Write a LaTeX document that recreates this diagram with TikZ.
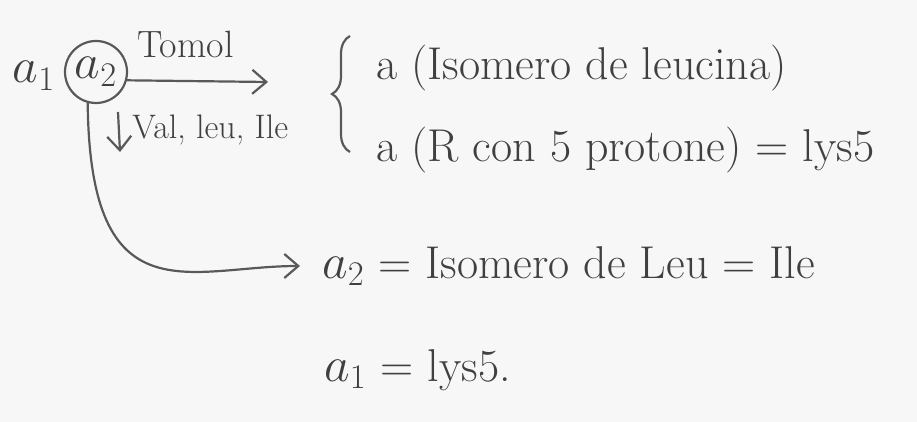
\documentclass[tikz,border=0pt]{standalone}
\usetikzlibrary{positioning,arrows.meta,decorations.pathreplacing}

\begin{document}
\begin{tikzpicture}[
    x=0.5pt,y=-0.5pt,
    hand/.style={text=black!75,font=\fontsize{23}{27}\selectfont,inner sep=1pt},
    small/.style={hand,font=\fontsize{17}{20}\selectfont},
    pen/.style={draw=black!65,line width=1.1pt},
    ring/.style={circle,pen,minimum size=31pt,inner sep=0pt},
    >={Straight Barb[length=7pt,width=12pt]}
]

% paper
\fill[gray!6] (0,0) rectangle (917,422);

% nodes
\node[hand]  (a1) at (34,76) {$a_1$};
\node[hand,ring] (a2) at (96,72) {$a_2$};
\node[hand,anchor=west] (leu) at (374,68)  {a (Isomero de leucina)};
\node[hand,anchor=west] (lys) at (374,150) {a (R con 5 protone) = lys5};
\node[hand,anchor=west] (ile) at (320,266) {$a_2$ = Isomero de Leu = Ile};
\node[hand,anchor=west] (res) at (322,370) {$a_1$ = lys5.};
\node[small,anchor=west] (val) at (130,130) {Val, leu, Ile};

% arrow a2 -> right, with reagent above
\coordinate (tip) at (268,82);
\draw[pen,->] (a2.-15) -- (tip) node[midway,above=10pt,xshift=-6pt,hand,font=\fontsize{19}{22}\selectfont] (reag) {Tomol};

% small down arrow before the list
\coordinate (dtop) at (118,112);
\coordinate (dbot) at (120,152);
\draw[pen,->] (dtop) -- (dbot);

% brace grouping the two lines
\draw[pen,decorate,decoration={brace,amplitude=9pt}] (350,152) -- (350,36);

% curved arrow down to the a2 result
\draw[pen,->,shorten >=10pt] (a2.-105) .. controls (90,320) and (190,266) .. (ile.west);

\end{tikzpicture}
\end{document}
